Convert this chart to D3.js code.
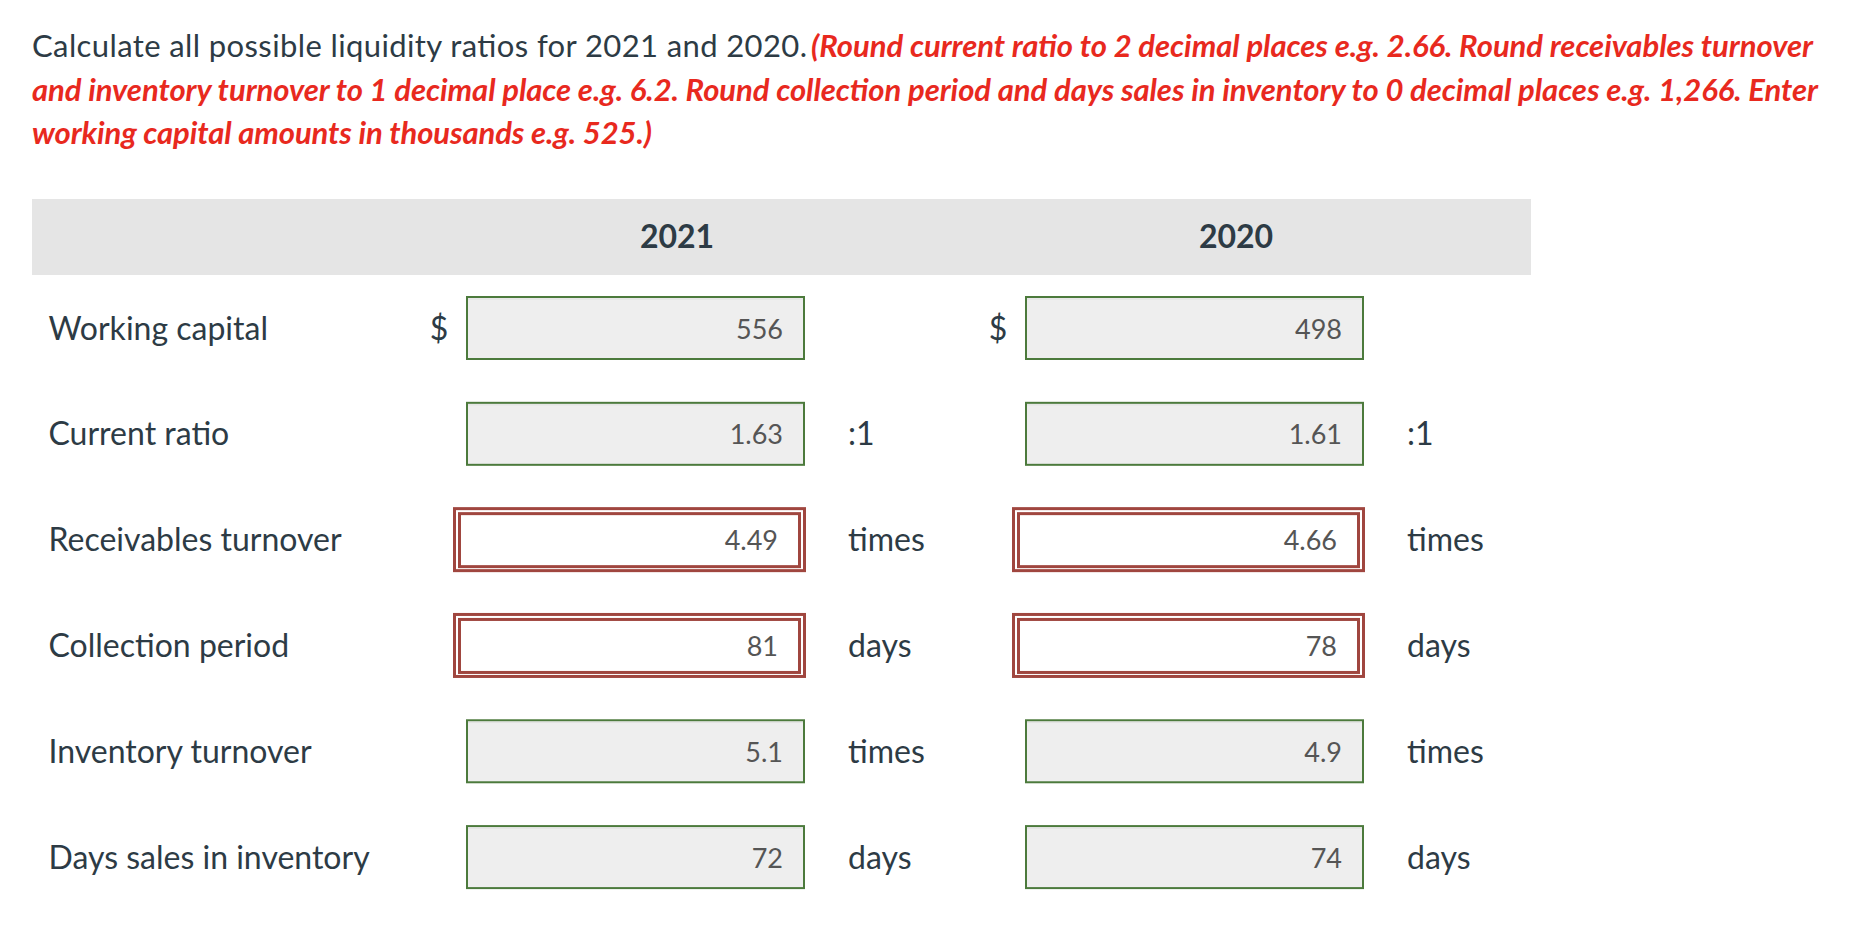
<!DOCTYPE html>
<html>
<head>
<meta charset="utf-8">
<script src="https://cdn.jsdelivr.net/npm/d3@7"></script>
<style>
  html, body { margin: 0; padding: 0; background: #ffffff; }
  svg { display: block; font-family: Lato, "Open Sans", sans-serif; }
</style>
</head>
<body>
<svg id="chart" width="1860" height="940"></svg>
<script>
// ---- data ----
const years = ["2021", "2020"];
const rowLabels = ["Working capital", "Current ratio", "Receivables turnover", "Collection period", "Inventory turnover", "Days sales in inventory"];
const values2021 = ["556", "1.63", "4.49", "81", "5.1", "72"];
const values2020 = ["498", "1.61", "4.66", "78", "4.9", "74"];
const prefixes = ["$", "", "", "", "", ""];
const units = ["", ":1", "times", "days", "times", "days"];
const status = ["correct", "correct", "incorrect", "incorrect", "correct", "correct"];
const introText = "Calculate all possible liquidity ratios for 2021 and 2020.";
const noteLines = [
  "(Round current ratio to 2 decimal places e.g. 2.66. Round receivables turnover",
  "and inventory turnover to 1 decimal place e.g. 6.2. Round collection period and days sales in inventory to 0 decimal places e.g. 1,266. Enter",
  "working capital amounts in thousands e.g. 525.)"
];

// ---- layout ----
const svg = d3.select("#chart");
const dark = "#2d3b45", red = "#e8291e", green = "#4c7a3c", wrong = "#a0463f";

// instruction text (segments fitted to the widths seen in the reference)
const segs = [
  {t: introText, x: 32, y: 57, w: 775, c: dark, b: false},
  {t: noteLines[0], x: 811, y: 57, w: 1002, c: red, b: true},
  {t: noteLines[1], x: 32, y: 101, w: 1786, c: red, b: true},
  {t: noteLines[2], x: 32, y: 144, w: 620, c: red, b: true}
];
svg.selectAll("text.intro").data(segs).join("text")
  .attr("class", "intro")
  .attr("x", d => d.x).attr("y", d => d.y)
  .attr("fill", d => d.c)
  .attr("font-size", 31)
  .attr("font-weight", d => d.b ? 700 : 400)
  .attr("font-style", d => d.b ? "italic" : "normal")
  .attr("textLength", d => d.w)
  .attr("lengthAdjust", "spacing")
  .text(d => d.t);

// header band
const tableLeft = 32, tableRight = 1531;
svg.append("rect").attr("x", tableLeft).attr("y", 199).attr("width", tableRight - tableLeft).attr("height", 76).attr("fill", "#e5e5e5");

const colOffset = d3.scaleOrdinal().domain(years).range([0, 559]);
svg.selectAll("text.year").data(years).join("text")
  .attr("class", "year")
  .attr("x", d => 677 + colOffset(d)).attr("y", 248)
  .attr("text-anchor", "middle")
  .attr("font-size", 32).attr("font-weight", 700)
  .attr("fill", dark)
  .text(d => d);

// rows
const rowY = d3.scalePoint().domain(rowLabels).range([328.5, 857.6]);
svg.selectAll("text.label").data(rowLabels).join("text")
  .attr("class", "label")
  .attr("x", 48.5).attr("y", d => rowY(d) + 11)
  .attr("font-size", 32).attr("fill", dark)
  .text(d => d);

const cells = [];
years.forEach(yr => {
  const vals = yr === "2021" ? values2021 : values2020;
  rowLabels.forEach((lab, i) => cells.push({year: yr, label: lab, value: vals[i], prefix: prefixes[i], unit: units[i], status: status[i]}));
});

const g = svg.selectAll("g.cell").data(cells).join("g")
  .attr("class", "cell")
  .attr("transform", d => `translate(${colOffset(d.year)},${rowY(d.label)})`);

// correct boxes
g.filter(d => d.status === "correct").each(function() {
  const s = d3.select(this);
  s.append("rect").attr("x", 467).attr("y", -31.5).attr("width", 337).attr("height", 62)
    .attr("fill", "#eeeeee").attr("stroke", green).attr("stroke-width", 2);
  s.append("line").attr("x1", 468).attr("x2", 803).attr("y1", -29.5).attr("y2", -29.5)
    .attr("stroke", "#e0e0e0").attr("stroke-width", 1);
});
// incorrect boxes (double border)
g.filter(d => d.status === "incorrect").each(function() {
  const s = d3.select(this);
  s.append("rect").attr("x", 454.5).attr("y", -31.5).attr("width", 350).attr("height", 62)
    .attr("fill", "#ffffff").attr("stroke", wrong).attr("stroke-width", 3);
  s.append("rect").attr("x", 459.5).attr("y", -26.5).attr("width", 340).attr("height", 53)
    .attr("fill", "#ffffff").attr("stroke", wrong).attr("stroke-width", 3);
});

g.append("text")
  .attr("x", d => d.status === "correct" ? 783 : 778)
  .attr("y", 10)
  .attr("text-anchor", "end")
  .attr("font-size", 27).attr("fill", "#555555")
  .text(d => d.value);

g.filter(d => d.prefix).append("text")
  .attr("x", 439).attr("y", 11)
  .attr("text-anchor", "middle")
  .attr("font-size", 32).attr("fill", dark)
  .text(d => d.prefix);

g.filter(d => d.unit).append("text")
  .attr("x", 848).attr("y", 11)
  .attr("font-size", 32).attr("fill", dark)
  .text(d => d.unit);
</script>
</body>
</html>
